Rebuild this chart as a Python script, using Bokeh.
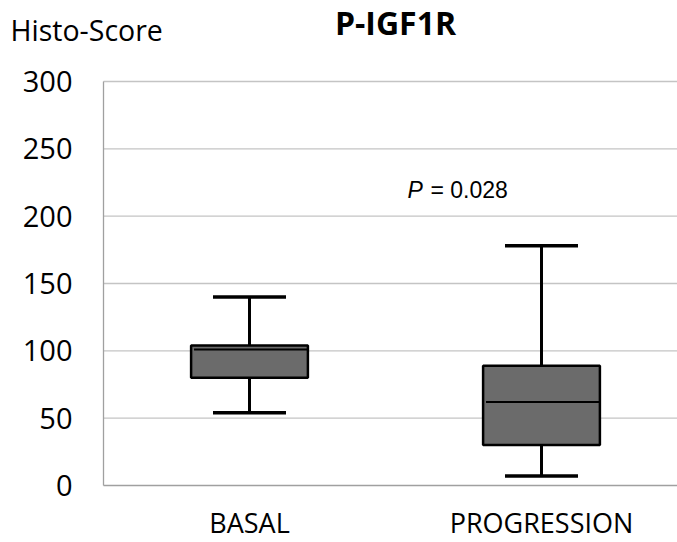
from bokeh.plotting import figure
from bokeh.models import Range1d, FixedTicker, Label, LinearAxis
from bokeh.core.properties import value
from bokeh.embed import file_html
from bokeh.resources import INLINE

# ---- data ----
categories = ["BASAL", "PROGRESSION"]
whisker_low = [54, 7]
q1 = [80, 30]
median = [101, 62]
q3 = [104, 89]
whisker_high = [140, 178]
y_ticks = [0, 50, 100, 150, 200, 250, 300]
title_text = "P-IGF1R"
y_title = "Histo-Score"
p_label = "P"
p_value_text = "= 0.028"

# ---- layout (pixel geometry of the canvas) ----
W, H = 677, 542
AXIS_PX = 103            # pixel column of the y axis
ZERO_PX = 485            # pixel row of value 0
TOP_PX = 81              # pixel row of value 300
cat_px = 292.0           # pixels per category
upp = 300.0 / (ZERO_PX - TOP_PX)   # data units per pixel


def px_x(px):
    return (px - AXIS_PX) / cat_px


def px_y(px):
    return (ZERO_PX - px) * upp


xs = [i + 0.5 for i in range(len(categories))]
x_end = px_x(W)
box_w = 0.40
cap_w = 0.25

p = figure(width=W, height=H, output_backend="svg", toolbar_location=None,
           x_range=Range1d(px_x(0), x_end), y_range=Range1d(px_y(H), px_y(0)),
           x_axis_location=None, y_axis_location=None,
           min_border_left=0, min_border_right=0, min_border_top=0,
           min_border_bottom=0)
p.outline_line_color = None
p.background_fill_color = "white"
p.border_fill_color = "white"
p.grid.visible = False

# horizontal grid lines (value 0 is the darker category axis)
grid_colors = ["#a0a0a0" if t == 0 else "#c4c4c4" for t in y_ticks]
p.segment(x0=[0] * len(y_ticks), x1=[x_end] * len(y_ticks), y0=y_ticks, y1=y_ticks,
          line_color=grid_colors, line_width=1.3)

# y axis, fixed at x = 0 and spanning 0..300
yaxis = LinearAxis(fixed_location=0, bounds=(0, 300), ticker=FixedTicker(ticks=y_ticks))
yaxis.major_tick_line_color = None
yaxis.minor_tick_line_color = None
yaxis.major_tick_out = 0
yaxis.major_tick_in = 0
yaxis.axis_line_color = "#a0a0a0"
yaxis.axis_line_width = 1.3
yaxis.major_label_standoff = 31
yaxis.major_label_text_font = "Open Sans"
yaxis.major_label_text_font_size = "29px"
yaxis.major_label_text_color = "black"
p.add_layout(yaxis, "left")

# category labels
p.text(x=xs, y=[px_y(522)] * len(xs), text=categories, text_align="center",
       text_baseline="middle", text_font=value("Open Sans"),
       text_font_size=value("27px"), text_color="black")

# whiskers
p.segment(x0=xs, y0=q3, x1=xs, y1=whisker_high, line_color="black", line_width=3)
p.segment(x0=xs, y0=whisker_low, x1=xs, y1=q1, line_color="black", line_width=3)
p.segment(x0=[x - cap_w / 2 for x in xs], y0=whisker_high,
          x1=[x + cap_w / 2 for x in xs], y1=whisker_high, line_color="black", line_width=3.5)
p.segment(x0=[x - cap_w / 2 for x in xs], y0=whisker_low,
          x1=[x + cap_w / 2 for x in xs], y1=whisker_low, line_color="black", line_width=3.5)

# boxes
p.quad(left=[x - box_w / 2 for x in xs], right=[x + box_w / 2 for x in xs],
       bottom=q1, top=q3, fill_color="#6b6b6b", line_color="black", line_width=2.5)
# medians
p.segment(x0=[x - box_w / 2 + 0.01 for x in xs], y0=median,
          x1=[x + box_w / 2 for x in xs], y1=median, line_color="black", line_width=2)

# title and y caption
p.add_layout(Label(x=px_x(395), y=px_y(22), text=title_text, text_align="center",
                   text_baseline="middle", text_font="Open Sans",
                   text_font_style="bold", text_font_size="32px", text_color="black"))
p.add_layout(Label(x=px_x(10), y=px_y(29), text=y_title, text_align="left",
                   text_baseline="middle", text_font="Open Sans",
                   text_font_size="28.5px", text_color="black"))

# p-value
p.add_layout(Label(x=px_x(407), y=px_y(189), text=p_label, text_align="left",
                   text_baseline="middle", text_font="Liberation Sans",
                   text_font_style="italic", text_font_size="23px", text_color="black"))
p.add_layout(Label(x=px_x(407), y=px_y(189), x_offset=23, text=p_value_text,
                   text_align="left", text_baseline="middle", text_font="Liberation Sans",
                   text_font_size="23px", text_color="black"))

open("out.html", "w").write(file_html(p, INLINE))
